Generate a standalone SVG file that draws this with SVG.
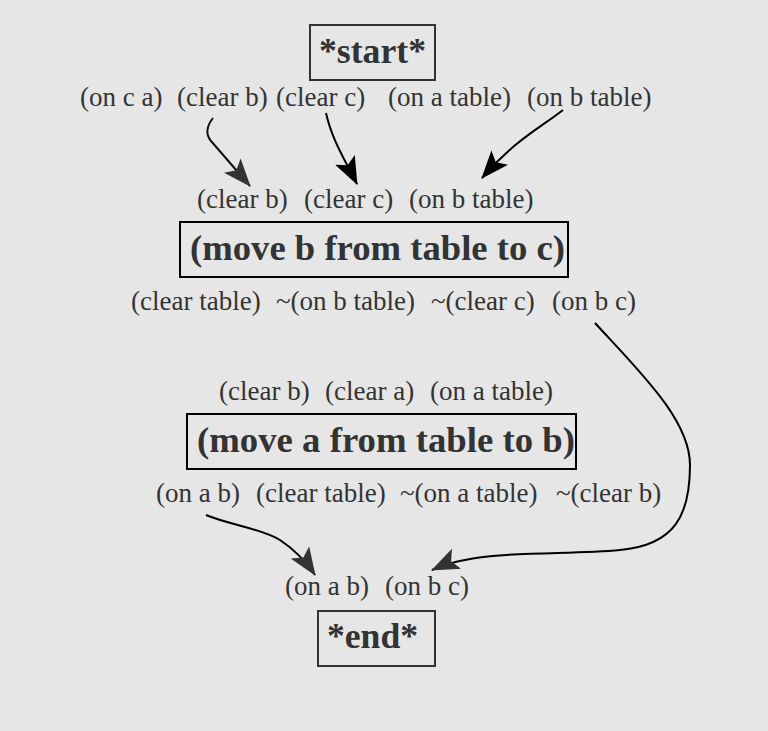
<svg xmlns="http://www.w3.org/2000/svg" width="768" height="731" viewBox="0 0 768 731">
<style>
.t{font-family:"Liberation Serif","Times New Roman",serif;font-size:27px;fill:#333}
.b{font-family:"Liberation Serif","Times New Roman",serif;font-size:36px;font-weight:bold;fill:#333}
.box{fill:none;stroke-width:2}
.e{fill:none;stroke-width:2}
</style>
<defs>
<marker id="ag" markerUnits="userSpaceOnUse" viewBox="0 0 28 22" refX="27" refY="11" markerWidth="28" markerHeight="22" orient="auto">
<path d="M0,0 L28,11 L0,22 L6,11 Z" fill="#333"/>
</marker>
<marker id="ak" markerUnits="userSpaceOnUse" viewBox="0 0 28 22" refX="27" refY="11" markerWidth="28" markerHeight="22" orient="auto">
<path d="M0,0 L28,11 L0,22 L6,11 Z" fill="#000"/>
</marker>
</defs>
<rect width="768" height="731" fill="#e6e6e6"/>
<g id="start">
<rect class="box" x="310" y="25" width="125" height="55" stroke="#333"/>
<text class="b" x="319" y="63" textLength="107" lengthAdjust="spacingAndGlyphs">*start*</text>
<text class="t" x="80" y="106">(on c a)</text>
<text class="t" x="177" y="106">(clear b)</text>
<text class="t" x="276" y="106">(clear c)</text>
<text class="t" x="388" y="106">(on a table)</text>
<text class="t" x="527" y="106">(on b table)</text>
</g>
<g id="move-b">
<text class="t" x="197" y="208">(clear b)</text>
<text class="t" x="304" y="208">(clear c)</text>
<text class="t" x="409" y="208">(on b table)</text>
<rect class="box" x="180" y="222" width="388" height="55" stroke="#000"/>
<text class="b" x="190" y="260" textLength="375" lengthAdjust="spacingAndGlyphs">(move b from table to c)</text>
<text class="t" x="131" y="310">(clear table)</text>
<text class="t" x="276" y="310">~(on b table)</text>
<text class="t" x="431" y="310">~(clear c)</text>
<text class="t" x="552" y="310">(on b c)</text>
</g>
<g id="move-a">
<text class="t" x="219" y="400">(clear b)</text>
<text class="t" x="325" y="400">(clear a)</text>
<text class="t" x="430" y="400">(on a table)</text>
<rect class="box" x="187" y="414" width="389" height="55" stroke="#000"/>
<text class="b" x="197" y="452" textLength="378" lengthAdjust="spacingAndGlyphs">(move a from table to b)</text>
<text class="t" x="156" y="502">(on a b)</text>
<text class="t" x="256" y="502">(clear table)</text>
<text class="t" x="400" y="502">~(on a table)</text>
<text class="t" x="556" y="502">~(clear b)</text>
</g>
<g id="end">
<text class="t" x="285" y="595">(on a b)</text>
<text class="t" x="385" y="595">(on b c)</text>
<rect class="box" x="318" y="611" width="117" height="55" stroke="#333"/>
<text class="b" x="327" y="648" textLength="91" lengthAdjust="spacingAndGlyphs">*end*</text>
</g>
<g id="connectors">
<path class="e" stroke="#111" d="M213,118 C206,127 206,135 211,141 L250,186" marker-end="url(#ag)"/>
<path class="e" stroke="#000" d="M326,113 C332,140 345,160 357,184" marker-end="url(#ak)"/>
<path class="e" stroke="#000" d="M563,110 C540,128 515,140 482,178" marker-end="url(#ak)"/>
<path class="e" stroke="#000" d="M595,323 C640,372 690,420 690,465 C690,515 675,545 620,550 C560,556 480,548 432,570" marker-end="url(#ag)"/>
<path class="e" stroke="#000" d="M206,515 C230,525 260,528 280,540 C295,550 305,560 315,575" marker-end="url(#ag)"/>
</g>
</svg>
